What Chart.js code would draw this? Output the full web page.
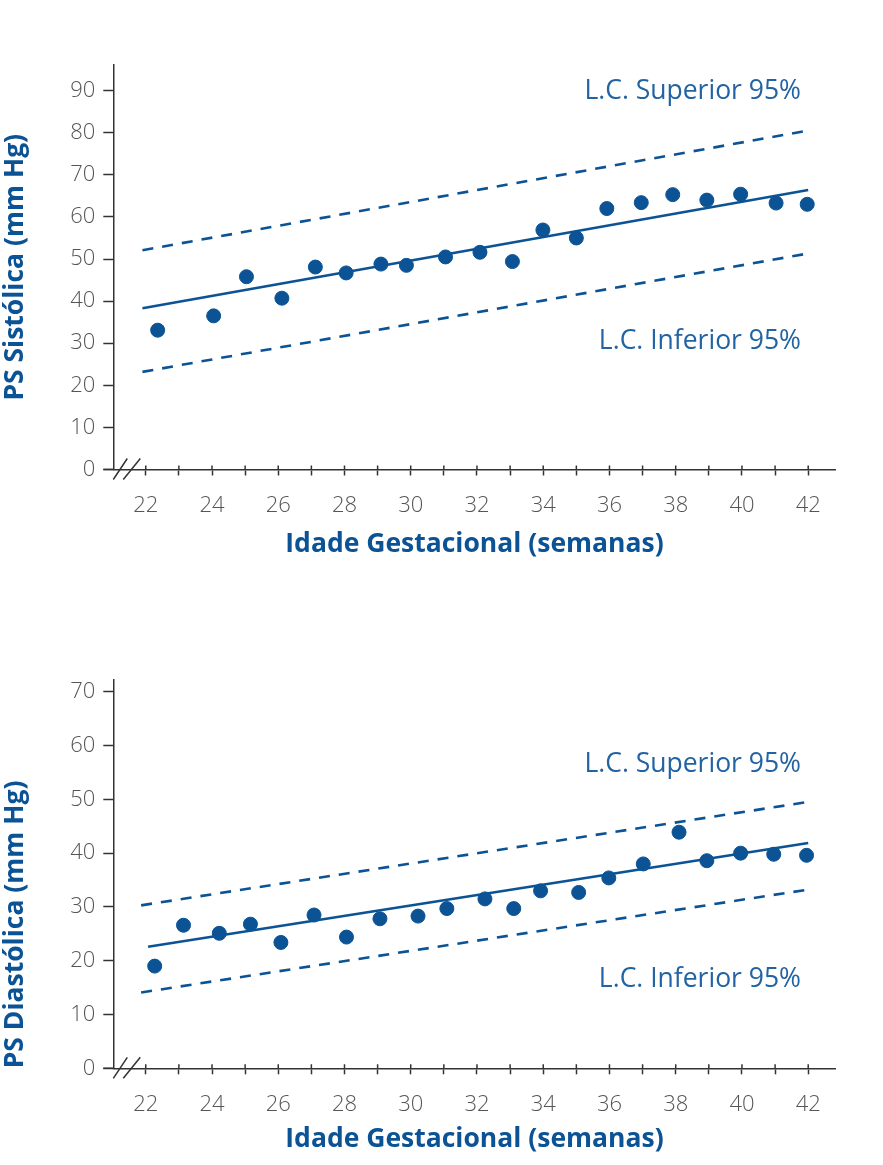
<!DOCTYPE html>
<html><head><meta charset="utf-8">
<script src="https://cdn.jsdelivr.net/npm/chart.js@4.4.0/dist/chart.umd.min.js"></script>
<style>
html,body{margin:0;padding:0;background:#fff;}
#wrap{position:relative;width:883px;height:1165px;}
#c1{position:absolute;left:0;top:0;}
#c2{position:absolute;left:0;top:580px;}
</style></head><body>
<div id="wrap">
<canvas id="c1" width="883" height="580" style="width:883px;height:580px"></canvas>
<canvas id="c2" width="883" height="585" style="width:883px;height:585px"></canvas>
</div>
<script>
// ---------- data ----------
const xTickValues = [22,23,24,25,26,27,28,29,30,31,32,33,34,35,36,37,38,39,40,41,42];
const xTickLabels = ['22','','24','','26','','28','','30','','32','','34','','36','','38','','40','','42'];
const xAxisTitle = 'Idade Gestacional (semanas)';

const sysYTicks = [0,10,20,30,40,50,60,70,80,90];
const sysTitle = 'PS Sistólica (mm Hg)';
const sysWeeks  = [22.36,24.05,25.04,26.11,27.12,28.05,29.10,29.87,31.05,32.09,33.07,33.99,35.00,35.92,36.96,37.91,38.94,39.96,41.03,41.97];
const sysValues = [33.1,36.5,45.8,40.7,48.1,46.7,48.8,48.5,50.5,51.6,49.4,56.9,55.0,62.0,63.4,65.3,64.0,65.4,63.3,63.0];
const sysFitX   = [21.9, 42.0];
const sysFitY   = [38.3, 66.4];
const sysBandX  = [21.9, 42.05];
const sysUpperY = [52.1, 80.6];
const sysLowerY = [23.2, 51.4];

const diaYTicks = [0,10,20,30,40,50,60,70];
const diaTitle = 'PS Diastólica (mm Hg)';
const diaWeeks  = [22.27,23.14,24.22,25.16,26.08,27.08,28.06,29.07,30.22,31.09,32.24,33.11,33.92,35.07,35.98,37.02,38.10,38.94,39.96,40.96,41.95];
const diaValues = [19.0,26.6,25.1,26.8,23.4,28.5,24.4,27.8,28.3,29.7,31.5,29.7,33.0,32.7,35.4,38.0,43.9,38.6,40.0,39.8,39.6];
const diaFitX   = [22.07, 42.0];
const diaFitY   = [22.6, 41.9];
const diaBandX  = [21.86, 42.07];
const diaUpperY = [30.3, 49.6];
const diaLowerY = [14.1, 33.3];

const labelUpper = 'L.C. Superior 95%';
const labelLower = 'L.C. Inferior 95%';

// ---------- style ----------
const BLUE = '#0b5394';
const TEXTBLUE = '#2263a3';
const AXIS = '#333333';
const TICKTXT = '#555555';
const TITLEFONT = { family: '"Open Sans", sans-serif', size: 26.5, weight: 'bold' };
const TICKFONT = { family: '"Open Sans", sans-serif', size: 22, weight: '300' };

function pts(xs, ys){ return xs.map((x,i)=>({x:x, y:ys[i]})); }

const decoPlugin = {
  id: 'deco',
  afterDraw(chart, args, opts){
    const ctx = chart.ctx;
    const xs = chart.scales.x;
    const ca = chart.chartArea;
    const yAxis = ca.bottom;
    ctx.save();
    ctx.strokeStyle = AXIS;
    ctx.lineWidth = 1.5;
    ctx.beginPath();
    xs.ticks.forEach(t => {
      const px = xs.getPixelForValue(t.value);
      ctx.moveTo(px, yAxis - 4);
      ctx.lineTo(px, yAxis);
    });
    ctx.moveTo(ca.left - 10, yAxis);
    ctx.lineTo(ca.left, yAxis);
    ctx.stroke();
    ctx.beginPath();
    ctx.moveTo(ca.left, yAxis + 10); ctx.lineTo(ca.left + 14, yAxis - 11);
    ctx.moveTo(ca.left + 10, yAxis + 10); ctx.lineTo(ca.left + 27, yAxis - 11);
    ctx.stroke();
    ctx.fillStyle = TEXTBLUE;
    ctx.font = '400 26.5px "Open Sans", sans-serif';
    ctx.textAlign = 'right';
    ctx.textBaseline = 'alphabetic';
    opts.texts.forEach(t => ctx.fillText(t.text, t.x, t.y));
    ctx.restore();
  }
};

function makeChart(id, cfg){
  return new Chart(document.getElementById(id), {
    type: 'scatter',
    data: {
      datasets: [
        { data: pts(cfg.weeks, cfg.values), backgroundColor: BLUE, borderColor: BLUE, pointRadius: 7, pointHoverRadius: 7, showLine: false, order: 0 },
        { data: pts(cfg.fitX, cfg.fitY), showLine: true, borderColor: BLUE, borderWidth: 2.6, pointRadius: 0, fill: false, order: 1 },
        { data: pts(cfg.bandX, cfg.upperY), showLine: true, borderColor: BLUE, borderWidth: 2.6, borderDash: [11, 9], pointRadius: 0, fill: false, order: 1 },
        { data: pts(cfg.bandX, cfg.lowerY), showLine: true, borderColor: BLUE, borderWidth: 2.6, borderDash: [11, 9], pointRadius: 0, fill: false, order: 1 }
      ]
    },
    options: {
      responsive: false,
      animation: false,
      devicePixelRatio: 1,
      layout: { padding: { left: 0, top: cfg.padTop, right: 47.3, bottom: cfg.padBottom } },
      plugins: { legend: { display: false }, tooltip: { enabled: false }, deco: { texts: cfg.texts } },
      scales: {
        x: {
          type: 'linear', min: 21.02, max: 42.83,
          afterBuildTicks: s => { s.ticks = xTickValues.map(v => ({ value: v })); },
          afterFit: s => { s.height = cfg.xAxisHeight; },
          grid: { display: true, drawOnChartArea: false, drawTicks: true, tickLength: 6, tickWidth: 1.5, tickColor: AXIS },
          border: { display: true, color: AXIS, width: 1.5 },
          ticks: { padding: 17, color: TICKTXT, font: TICKFONT,
                   maxRotation: 0, autoSkip: false, callback: (v, i) => xTickLabels[i] },
          title: { display: true, text: xAxisTitle, color: BLUE, padding: 0, font: TITLEFONT }
        },
        y: {
          type: 'linear', min: 0, max: cfg.yMax,
          afterBuildTicks: s => { s.ticks = cfg.yTicks.map(v => ({ value: v })); },
          afterFit: s => { s.width = 113.3; },
          grid: { display: true, drawOnChartArea: false, drawTicks: true, tickLength: 10, tickWidth: 1.5, tickColor: AXIS },
          border: { display: true, color: AXIS, width: 1.5 },
          ticks: { padding: 8, color: TICKTXT, font: TICKFONT,
                   autoSkip: false, callback: v => String(v) },
          title: { display: true, text: cfg.yTitle, color: BLUE, align: cfg.yTitleAlign, padding: { top: 0, bottom: 0 }, font: TITLEFONT }
        }
      }
    },
    plugins: [decoPlugin]
  });
}

makeChart('c1', {
  weeks: sysWeeks, values: sysValues, fitX: sysFitX, fitY: sysFitY,
  bandX: sysBandX, upperY: sysUpperY, lowerY: sysLowerY,
  yTicks: sysYTicks, yMax: 96.1, yTitle: sysTitle, yTitleAlign: 'center',
  padTop: 65, padBottom: 20, xAxisHeight: 90.5,
  texts: [ { text: labelUpper, x: 801, y: 99 }, { text: labelLower, x: 801, y: 349 } ]
});

makeChart('c2', {
  weeks: diaWeeks, values: diaValues, fitX: diaFitX, fitY: diaFitY,
  bandX: diaBandX, upperY: diaUpperY, lowerY: diaLowerY,
  yTicks: diaYTicks, yMax: 72.2, yTitle: diaTitle, yTitleAlign: 'start',
  padTop: 100, padBottom: 10, xAxisHeight: 86.7,
  texts: [ { text: labelUpper, x: 801, y: 772 - 580 }, { text: labelLower, x: 801, y: 987 - 580 } ]
});
</script>
</body></html>
